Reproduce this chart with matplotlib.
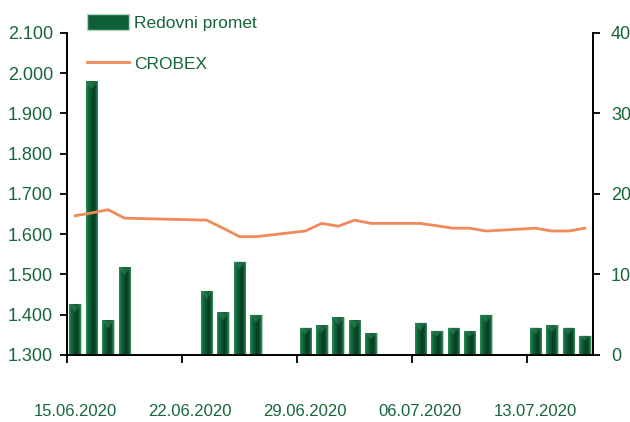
import numpy as np
import pandas as pd
import matplotlib
matplotlib.use("Agg")
import matplotlib.pyplot as plt
import matplotlib.dates as mdates
from matplotlib.patches import Patch
from matplotlib.lines import Line2D
from matplotlib.colors import LinearSegmentedColormap
from matplotlib.ticker import FuncFormatter, FixedLocator

plt.rcParams['font.family'] = ['Liberation Sans', 'DejaVu Sans']

# trading days
days = ['2020-06-15', '2020-06-16', '2020-06-17', '2020-06-18',
        '2020-06-23', '2020-06-24', '2020-06-25', '2020-06-26',
        '2020-06-29', '2020-06-30', '2020-07-01', '2020-07-02', '2020-07-03',
        '2020-07-06', '2020-07-07', '2020-07-08', '2020-07-09', '2020-07-10',
        '2020-07-13', '2020-07-14', '2020-07-15', '2020-07-16']
# redovni promet (mil. kn), right axis
promet = [6.3, 34.0, 4.3, 10.9,
          7.9, 5.3, 11.6, 5.0,
          3.4, 3.7, 4.7, 4.3, 2.7,
          4.0, 3.0, 3.4, 3.0, 5.0,
          3.4, 3.7, 3.4, 2.4]
# CROBEX, left axis
crobex = [1646, 1653, 1661, 1640,
          1635, 1615, 1594, 1594,
          1608, 1627, 1620, 1635, 1627,
          1627, 1621, 1615, 1615, 1608,
          1615, 1608, 1608, 1615]
week_ticks = ['2020-06-15', '2020-06-22', '2020-06-29', '2020-07-06', '2020-07-13']
x_start, x_end = '2020-06-15', '2020-07-17'

green_txt = '#17663a'
line_col = '#f08a5a'

x = mdates.date2num(pd.to_datetime(days)) + 0.5   # centre of each day slot
cb = np.array(crobex) / 1000.0

fig = plt.figure(figsize=(6.3, 4.22), dpi=100)
ax = fig.add_axes([67/630, 1-355/422, (593-67)/630, (355-33)/422])
ax2 = ax.twinx()

# bars with a bit of shading
bars = ax2.bar(x, promet, width=0.7, color='#0e5f35', edgecolor='#b3d6bf', linewidth=0.8, zorder=2)
cmap = LinearSegmentedColormap.from_list('g', ['#2f8a58', '#10683a', '#0a5630', '#073d22', '#0b4b2b', '#3a8e60'])
grad = np.linspace(0, 1, 64).reshape(1, -1)
for b in bars:
    x0, w, h = b.get_x(), b.get_width(), b.get_height()
    im = ax2.imshow(grad, cmap=cmap, aspect='auto', extent=[x0, x0+w, 0, h], zorder=3)
    im.set_clip_path(b)
    # light bevel on top
    ax2.fill([x0, x0+w/2, x0+w], [h, h-min(1.0, h*0.25), h], color='#3a9462', alpha=0.45, zorder=4, lw=0)

ax.plot(x, cb, color=line_col, lw=2.0, zorder=5)
ax.set_zorder(ax2.get_zorder()+1)
ax.patch.set_visible(False)

x0n, x1n = mdates.date2num(pd.to_datetime([x_start, x_end]))
ax.set_xlim(x0n, x1n)
ax.set_ylim(1.3, 2.1)
ax2.set_ylim(0, 40)
ax.set_yticks(np.arange(1.3, 2.1001, 0.1))
ax.yaxis.set_major_formatter(FuncFormatter(lambda v, p: f"{v*1000:,.0f}".replace(',', '.')))
ax2.set_yticks(np.arange(0, 41, 10))

tk = mdates.date2num(pd.to_datetime(week_ticks))
ax.xaxis.set_major_locator(FixedLocator(tk))
ax.xaxis.set_minor_locator(FixedLocator(tk + 0.5))
ax.set_xticklabels([])
ax.set_xticklabels([pd.Timestamp(d).strftime('%d.%m.%Y') for d in week_ticks], minor=True)
ax.tick_params(axis='x', which='major', length=6, width=1.3, direction='out')
ax.tick_params(axis='x', which='minor', length=0, pad=35, labelsize=12, labelcolor=green_txt)
ax.tick_params(axis='y', length=5, width=1.3, pad=5, labelsize=13, labelcolor=green_txt)
ax2.tick_params(axis='y', length=5, width=1.3, pad=8, labelsize=13, labelcolor=green_txt)

for a in (ax, ax2):
    a.spines['top'].set_visible(False)
    for s in ('left', 'right', 'bottom'):
        a.spines[s].set_linewidth(1.3)

handles = [Patch(facecolor='#0e5f35', edgecolor='#b3d6bf', label='Redovni promet'),
           Line2D([0], [0], color=line_col, lw=2.0, label='CROBEX')]
fig.legend(handles=handles, loc='upper left', bbox_to_anchor=(87/630, 1-14/422),
           frameon=False, fontsize=12.5, labelcolor=green_txt, borderpad=0, borderaxespad=0,
           handlelength=2.4, handleheight=1.0, handletextpad=0.3, labelspacing=1.4)

fig.savefig('out.png', dpi=100)
